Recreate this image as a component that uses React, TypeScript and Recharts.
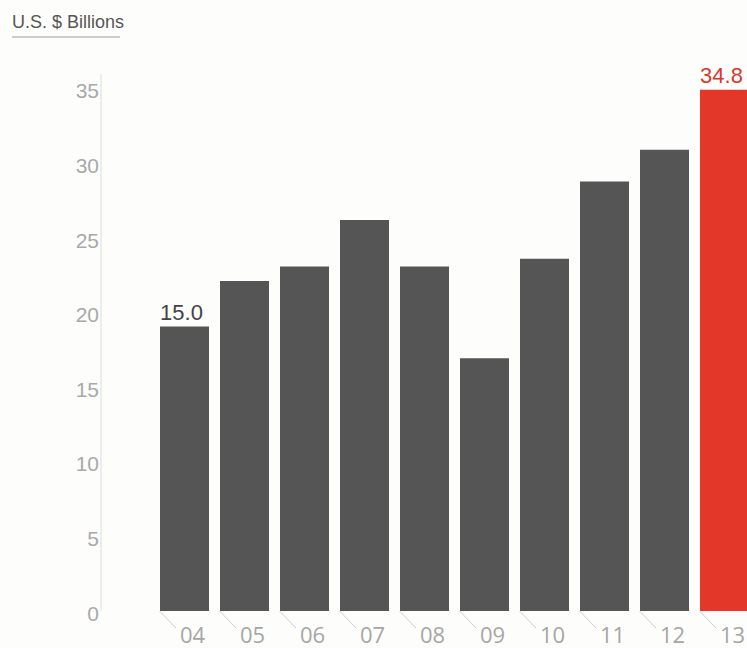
import React from 'react'
import { BarChart, Bar, XAxis, YAxis, Cell, LabelList } from 'recharts'

const years = ['04', '05', '06', '07', '08', '09', '10', '11', '12', '13']
const values = [19.07, 22.13, 23.09, 26.22, 23.09, 16.95, 23.61, 28.79, 30.92, 34.95]
const valueLabels = ['15.0', '', '', '', '', '', '', '', '', '34.8']
const yTicks = [0, 5, 10, 15, 20, 25, 30, 35]

const GREY = '#555555'
const RED = '#e3372a'
const SANS = '"Liberation Sans", Arial, Helvetica, sans-serif'

const data = years.map((y, i) => ({
    year: y,
    value: values[i],
    label: valueLabels[i],
    highlight: i === years.length - 1
}))

// x tick: little slanted line from the bar corner, then the year
const YearTick = (props: any) => {
    const { x, y, payload } = props
    return (
        <g>
            <line x1={x - 24.5} y1={y} x2={x - 8} y2={y + 17} stroke="#cfcfcf" strokeWidth={1} />
            <text
                x={x + 8.5}
                y={y + 31.5}
                textAnchor="middle"
                fill="#a6a6a6"
                fontSize={22}
                fontFamily='"Open Sans", sans-serif'
            >
                {payload.value}
            </text>
        </g>
    )
}

const ValueTick = (props: any) => {
    const { y, payload } = props
    return (
        <text x={99} y={y + 9.5} textAnchor="end" fill="#a9a9a9" fontSize={21} fontFamily={SANS}>
            {payload.value}
        </text>
    )
}

const renderLabel = (props: any) => {
    const { x, y, width, value, index } = props
    if (!value) return null
    const red = index === years.length - 1
    return (
        <text
            x={x + width / 2 - 3}
            y={y - 7}
            textAnchor="middle"
            fill={red ? '#d8392b' : '#444444'}
            fontSize={22}
            fontFamily={SANS}
        >
            {value}
        </text>
    )
}

export default function App() {
    return (
        <div
            style={{
                position: 'fixed',
                left: 0,
                top: 0,
                width: 747,
                height: 648,
                overflow: 'hidden',
                background: '#fdfdfc'
            }}
        >
            <div
                style={{
                    position: 'absolute',
                    left: 12,
                    top: 12,
                    fontFamily: SANS,
                    fontSize: 18,
                    lineHeight: '20px',
                    color: '#555555',
                    whiteSpace: 'nowrap'
                }}
            >
                U.S. $ Billions
            </div>
            <div style={{ position: 'absolute', left: 12, top: 36, width: 108, height: 1.5, background: '#cccccc' }} />

            <BarChart width={754} height={648} data={data} margin={{ top: 74, right: 0, left: 0, bottom: 0 }}>
                <YAxis
                    width={101}
                    domain={[0, 36]}
                    ticks={yTicks}
                    tick={<ValueTick />}
                    tickLine={false}
                    axisLine={{ stroke: '#dddddd' }}
                />
                <XAxis
                    dataKey="year"
                    height={37}
                    padding={{ left: 53, right: 0 }}
                    tick={<YearTick />}
                    tickLine={false}
                    axisLine={false}
                    tickSize={0}
                    tickMargin={0}
                    interval={0}
                />
                <Bar dataKey="value" barSize={49} isAnimationActive={false}>
                    {data.map((d) => (
                        <Cell key={d.year} fill={d.highlight ? RED : GREY} />
                    ))}
                    <LabelList dataKey="label" content={renderLabel} />
                </Bar>
            </BarChart>
        </div>
    )
}
